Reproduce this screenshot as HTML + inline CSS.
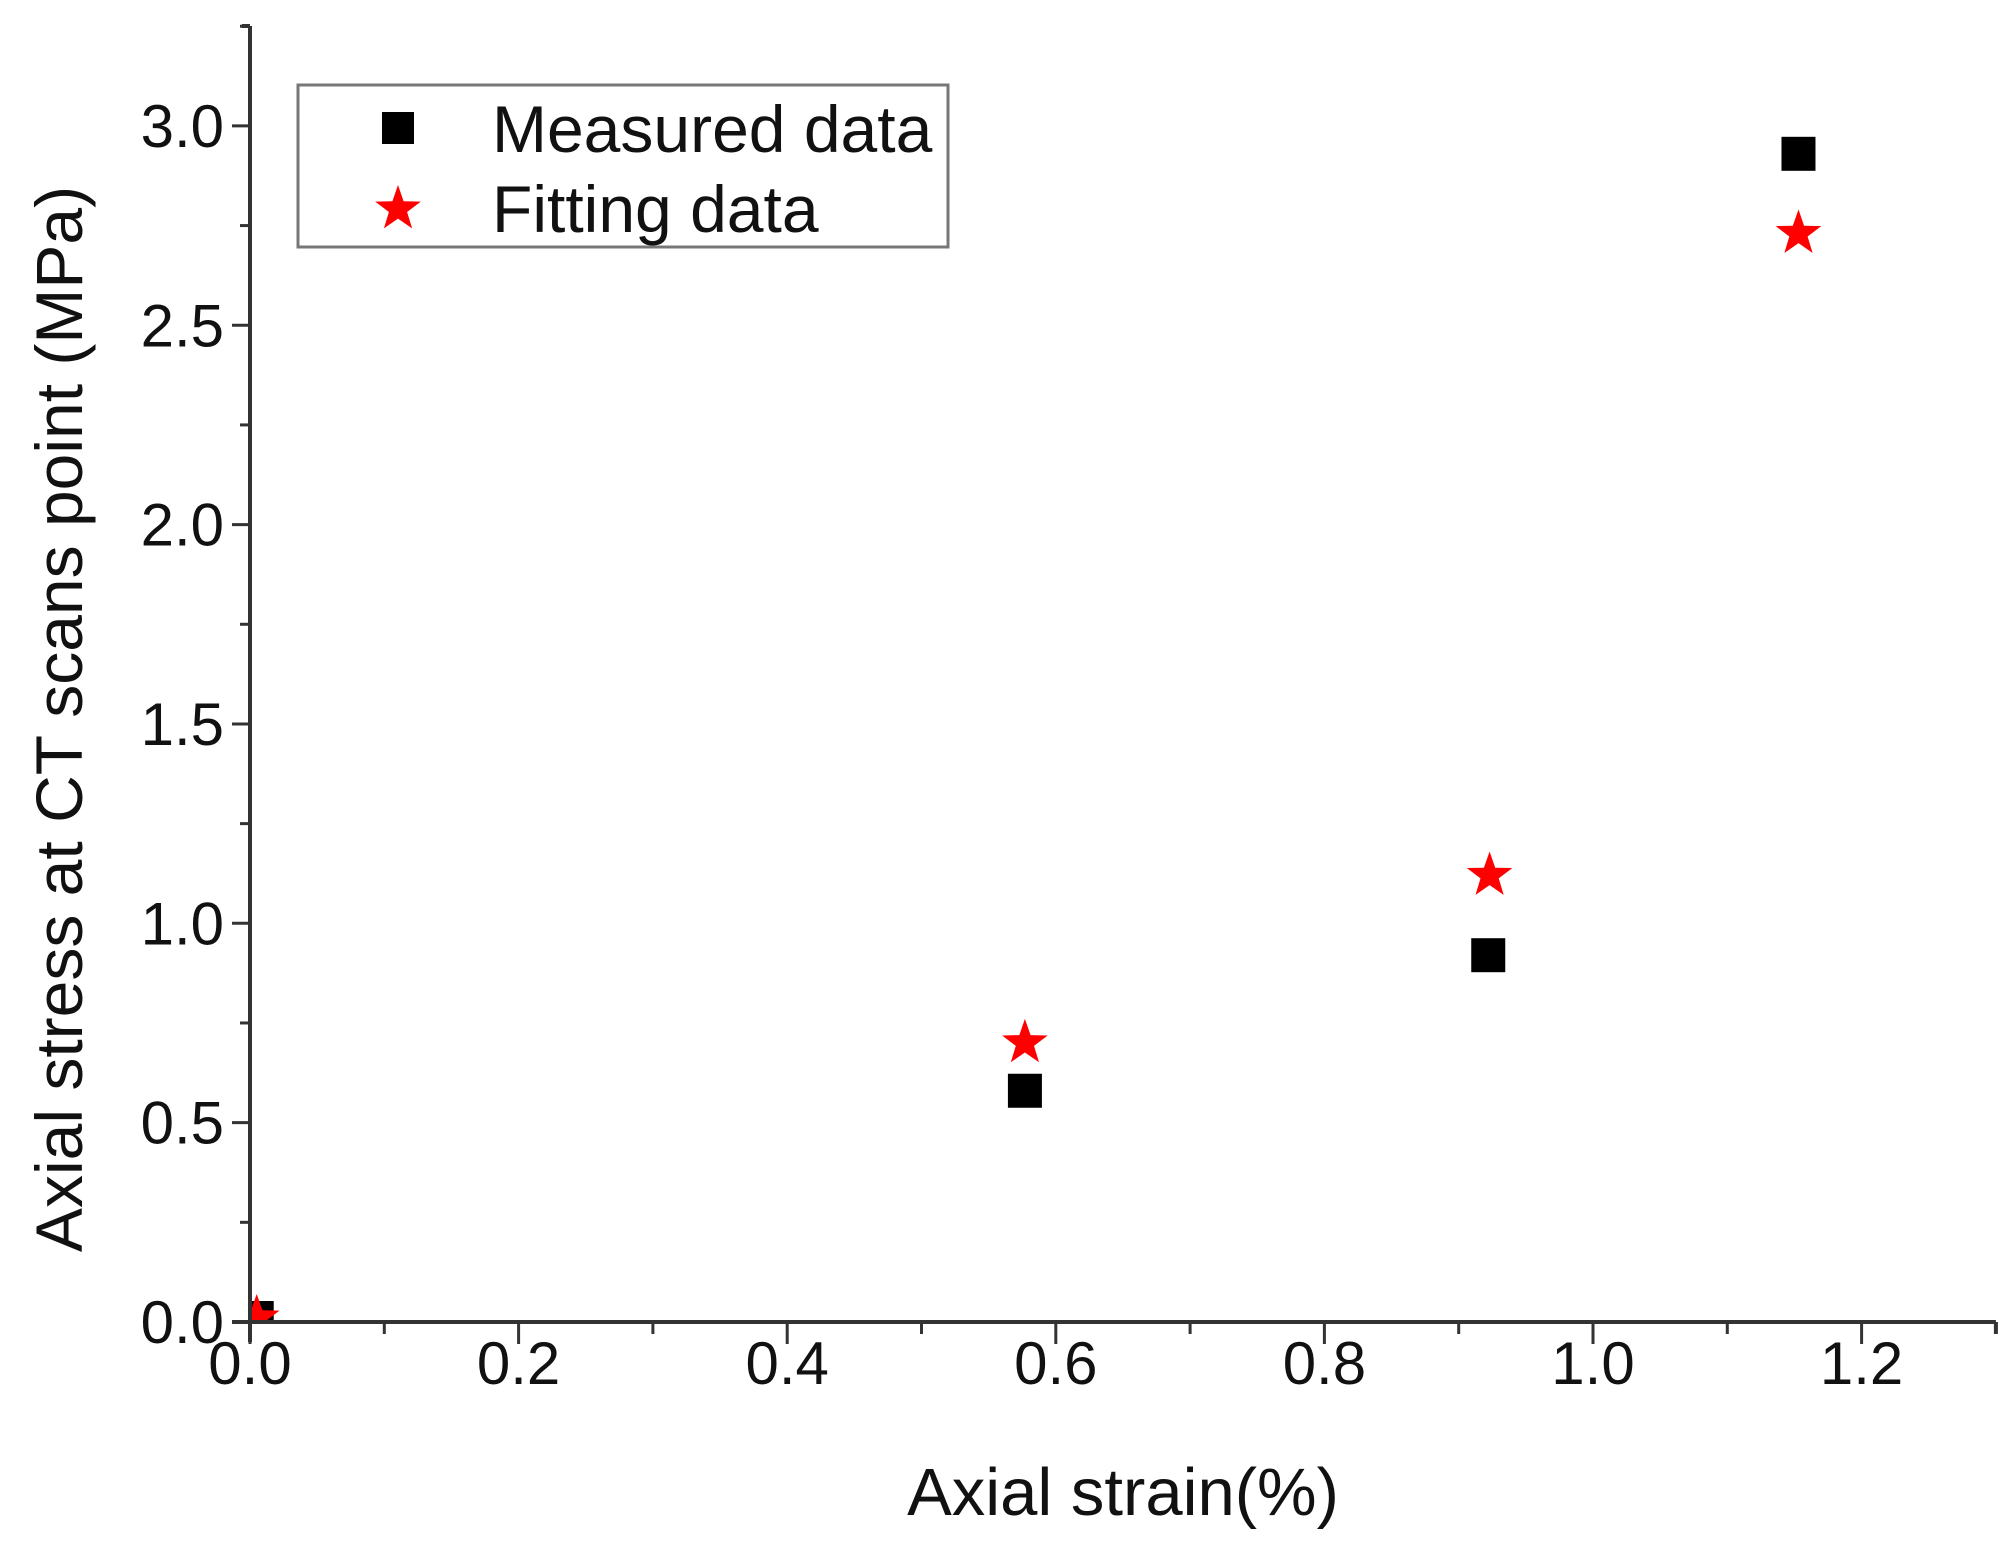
<!DOCTYPE html>
<html><head><meta charset="utf-8"><style>
html,body{margin:0;padding:0;background:#fff;}
svg{display:block;font-family:"Liberation Sans",Arial,sans-serif;}
</style></head><body>
<svg id="chart" width="2013" height="1547" viewBox="0 0 2013 1547">
<defs><clipPath id="plotclip"><rect x="252" y="20" width="1760" height="1300"/></clipPath></defs>
<g id="axes"></g>
<g id="marks" clip-path="url(#plotclip)"></g>
<text x="1123" y="1515" font-size="67" text-anchor="middle" fill="#111">Axial strain(%)</text>
<text transform="translate(82,719) rotate(-90)" font-size="66" text-anchor="middle" fill="#111">Axial stress at CT scans point (MPa)</text>
<g>
<rect x="298" y="85" width="650" height="162" fill="#fff" stroke="#777" stroke-width="3"/>
<rect x="382" y="112" width="32" height="32" fill="#000"/>
<text x="492" y="152" font-size="66" fill="#111">Measured data</text>
<polygon id="legstar" fill="#f00"/>
<text x="492" y="232" font-size="66" fill="#111">Fitting data</text>
</g>
</svg>
<script>
const strainX = [0.005, 0.577, 0.922, 1.153];
const measuredY = [0.01, 0.58, 0.92, 2.93];
const fittingX = [0.005, 0.577, 0.923, 1.153];
const fittingY = [0.01, 0.70, 1.12, 2.73];
const xTicks = ["0.0","0.2","0.4","0.6","0.8","1.0","1.2"];
const yTicks = ["0.0","0.5","1.0","1.5","2.0","2.5","3.0"];

const X0=250, XS=1343, Y0=1322, YS=398.7;
const xs = v => X0 + v*XS;
const ys = v => Y0 - v*YS;
const NS="http://www.w3.org/2000/svg";
function mk(tag, attrs, parent){const e=document.createElementNS(NS,tag);for(const k in attrs)e.setAttribute(k,attrs[k]);parent.appendChild(e);return e;}
function starPts(cx,cy,R){const r=R*0.4;let p=[];for(let i=0;i<10;i++){const a=-Math.PI/2+i*Math.PI/5;const rr=i%2?r:R;p.push((cx+rr*Math.cos(a)).toFixed(1)+","+(cy+rr*Math.sin(a)).toFixed(1));}return p.join(" ");}
document.getElementById('legstar').setAttribute('points', starPts(398,209,24));

const ax=document.getElementById('axes');
let l=mk('line',{x1:X0,y1:26,x2:X0,y2:Y0+20,stroke:'#333','stroke-width':4},ax);


l=mk('line',{x1:X0-18,y1:Y0,x2:xs(1.3),y2:Y0,stroke:'#333','stroke-width':4},ax);


mk('line',{x1:X0-8,y1:26,x2:X0,y2:26,stroke:'#333','stroke-width':4},ax);
mk('line',{x1:xs(1.3),y1:Y0,x2:xs(1.3),y2:Y0+12,stroke:'#333','stroke-width':4},ax);
xTicks.forEach((t,i)=>{const v=parseFloat(t);const x=xs(v);
 mk('line',{x1:x,y1:Y0,x2:x,y2:Y0+22,stroke:'#333','stroke-width':3},ax);
 const tx=mk('text',{x:x,y:Y0+62,'font-size':60,'text-anchor':'middle',fill:'#111'},ax);tx.textContent=t;
 
 
 if(i<xTicks.length-1){const m=xs(v+0.1);mk('line',{x1:m,y1:Y0,x2:m,y2:Y0+12,stroke:'#333','stroke-width':3},ax);}
});
yTicks.forEach((t,i)=>{const v=parseFloat(t);const y=ys(v);
 mk('line',{x1:X0-18,y1:y,x2:X0,y2:y,stroke:'#333','stroke-width':3},ax);
 const tx=mk('text',{x:X0-26,y:y+21,'font-size':60,'text-anchor':'end',fill:'#111'},ax);tx.textContent=t;
 
 
 const m=ys(v+0.25);mk('line',{x1:X0-10,y1:m,x2:X0,y2:m,stroke:'#333','stroke-width':3},ax);
});
const mg=document.getElementById('marks');
strainX.forEach((v,i)=>{const r=mk('rect',{x:xs(v)-17,y:ys(measuredY[i])-17,width:34,height:34,fill:'#000'},mg);
 
 });
fittingX.forEach((v,i)=>{const p=mk('polygon',{points:starPts(xs(v),ys(fittingY[i]),24),fill:'#f00'},mg);
 
 });
</script>
</body></html>
